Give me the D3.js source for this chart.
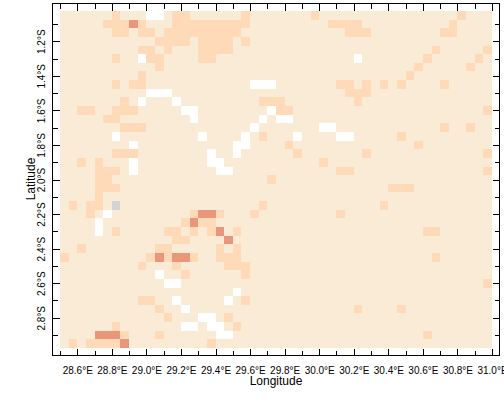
<!DOCTYPE html>
<html><head><meta charset="utf-8">
<script src="https://cdn.jsdelivr.net/npm/d3@7"></script>
<style>
html,body{margin:0;padding:0;background:#fff;overflow:hidden}
svg{display:block}
text{font-family:"Liberation Sans",Arial,sans-serif;fill:#000}
</style></head><body>
<svg id="chart" width="504" height="408"></svg>
<script>
// grid: 50 longitude columns and 39 latitude rows, 0.05 degree cells
const lonStart = 28.5, latStart = 1.025, cellDeg = 0.05, nCols = 50, nRows = 39;
const xMajorTicks = [28.6,28.8,29.0,29.2,29.4,29.6,29.8,30.0,30.2,30.4,30.6,30.8,31.0];
const xMinorTicks = [28.5,28.7,28.9,29.1,29.3,29.5,29.7,29.9,30.1,30.3,30.5,30.7,30.9];
const yMajorTicks = [1.2,1.4,1.6,1.8,2.0,2.2,2.4,2.6,2.8];
const yMinorTicks = [1.1,1.3,1.5,1.7,1.9,2.1,2.3,2.5,2.7,2.9];
// column indices per row, one list per class
const midCells = [
 [6,13,14,21,29,46],
 [5,6,7,9,13,14,15,16,17,18,19,20,21,31,32,33,34,45],
 [6,7,9,10,12,13,14,15,16,17,18,19,20,33,34,35,44,45],
 [11,12,13,14,16,17,18,19,21],
 [9,10,12,16,17,18,19,43,49],
 [6,10,11,16,17,42,48],
 [11,41,47],
 [9,40],
 [6,8,9,32,33,35,37,39,44],
 [33,34,35],
 [7,23,24,25,34],
 [2,3,6,7,8,25,26,49],
 [5,6],
 [7,8,9,44,47],
 [23,39],
 [26,41],
 [6,7,8,27,35,49],
 [2,4,30],
 [4,5,6,32,33,49],
 [4,5,24],
 [4,5,6,38,39,40],
 [4],
 [1,3,4,23,37],
 [3,15,18,22,32],
 [14,16,17],
 [6,12,13,15,17,20,42,43],
 [13,14],
 [2,11,12,18,20],
 [0,10,12,15,18,19,20,43],
 [9,13,19,20,21],
 [14,21],
 [49],
 [],
 [9,10,21],
 [11,34,39],
 [12,19],
 [6,20],
 [7,11,42],
 [1,3,4,5,6,17]
];
const darkCells = [
 [],[8],[],[],[],[],[],[],[],[],[],[],[],[],[],[],[],[],[],[],[],[],[],
 [16,17],[15],[18],[19],[],[11,13,14],[],[],[],[],[],[],[],[],[4,5,6],[7]
];
const missingCells = [
 [10,11],[],[],[],[],[9,34],[],[],[22,23,24],[10,11,12],[9,13],[14,15,24],[15,23,25,26],
 [22,30,31],[6,16,21,27,32,33],[8,20,21],[17,20],[8,17,18],[8,18,19],[],[],[],[],[5],[4],[4],
 [],[],[],[],[11],[12,13],[20],[13,19],[14],[16,17],[14,15,17,18],[18,19],[]
];
const greyCells = [{row:22,col:6}];
const classColors = {base:"#FAEBD7", mid:"#FFDAB9", dark:"#E9967A", grey:"#D3D3D3", missing:"#FFFFFF"};

const svg = d3.select("#chart");
const frame = {l:52.5, r:499.5, t:3.5, b:355.5};
const x = d3.scaleLinear().domain([28.5,31.0]).range([60,492]);
const y = d3.scaleLinear().domain([latStart, latStart + nRows*cellDeg]).range([11,348]);

// flatten cells
const cells = [];
for (let r=0;r<nRows;r++){
  for (let c=0;c<nCols;c++){
    let k = "base";
    if (midCells[r].includes(c)) k="mid";
    if (darkCells[r].includes(c)) k="dark";
    if (missingCells[r].includes(c)) k="missing";
    if (greyCells.some(g=>g.row===r&&g.col===c)) k="grey";
    cells.push({r,c,k});
  }
}
const lon = c => lonStart + c*cellDeg;
const lat = r => latStart + r*cellDeg;
svg.append("g").attr("shape-rendering","crispEdges").selectAll("rect").data(cells).join("rect")
  .attr("x",d=>x(lon(d.c))).attr("y",d=>y(lat(d.r)))
  .attr("width",d=>x(lon(d.c+1))-x(lon(d.c))).attr("height",d=>y(lat(d.r+1))-y(lat(d.r)))
  .attr("fill",d=>classColors[d.k]);

function style(g){
  g.attr("shape-rendering","crispEdges");
  g.selectAll(".domain").remove();
  g.selectAll("line").attr("stroke","#000").attr("stroke-width",1);
  g.selectAll("text").attr("font-size",10).attr("fill","#000");
}
const fmtE = v => d3.format(".1f")(v)+"°E";
const fmtS = v => d3.format(".1f")(v)+"°S";

svg.append("g").attr("transform",`translate(0,${frame.b})`)
  .call(d3.axisBottom(x).tickValues(xMajorTicks).tickSize(-7).tickPadding(11).tickFormat(fmtE)).call(style);
svg.append("g").attr("transform",`translate(0,${frame.b})`)
  .call(d3.axisBottom(x).tickValues(xMinorTicks).tickSize(-5).tickFormat("")).call(style);
svg.append("g").attr("transform",`translate(0,${frame.t})`)
  .call(d3.axisTop(x).tickValues(xMajorTicks).tickSize(-7).tickFormat("")).call(style);
svg.append("g").attr("transform",`translate(0,${frame.t})`)
  .call(d3.axisTop(x).tickValues(xMinorTicks).tickSize(-5).tickFormat("")).call(style);

const yl = svg.append("g").attr("transform",`translate(${frame.l},0)`)
  .call(d3.axisLeft(y).tickValues(yMajorTicks).tickSize(-7).tickFormat(fmtS)).call(style);
yl.selectAll("text")
  .attr("text-anchor","middle").attr("dy",null).attr("x",null)
  .attr("transform","translate(-8,0) rotate(-90)");
svg.append("g").attr("transform",`translate(${frame.l},0)`)
  .call(d3.axisLeft(y).tickValues(yMinorTicks).tickSize(-5).tickFormat("")).call(style);
svg.append("g").attr("transform",`translate(${frame.r},0)`)
  .call(d3.axisRight(y).tickValues(yMajorTicks).tickSize(-7).tickFormat("")).call(style);
svg.append("g").attr("transform",`translate(${frame.r},0)`)
  .call(d3.axisRight(y).tickValues(yMinorTicks).tickSize(-5).tickFormat("")).call(style);

svg.append("rect").attr("x",frame.l).attr("y",frame.t)
  .attr("width",frame.r-frame.l).attr("height",frame.b-frame.t)
  .attr("fill","none").attr("stroke","#000").attr("stroke-width",1).attr("shape-rendering","crispEdges");

svg.append("text").attr("x",276).attr("y",385).attr("text-anchor","middle").attr("font-size",12).text("Longitude");
svg.append("text").attr("transform","translate(35,179) rotate(-90)").attr("text-anchor","middle").attr("font-size",12).text("Latitude");
</script>
</body></html>
